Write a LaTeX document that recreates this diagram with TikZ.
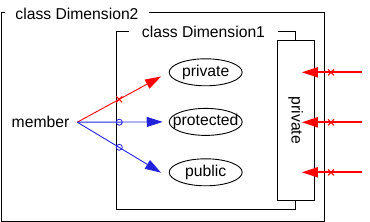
\documentclass[tikz,border=0pt]{standalone}
\usepackage{fontspec}
\setmainfont{Liberation Sans}
\usetikzlibrary{arrows.meta, shapes.geometric, shapes.misc}
\definecolor{accred}{RGB}{255, 0, 0}
\definecolor{accblue}{RGB}{35, 35, 220}

\begin{document}
\begin{tikzpicture}[x=1pt, y=-1pt,
    every node/.style={font=\fontsize{15.7}{18}\selectfont},
    frame/.style={draw, line width=1pt},
    title/.style={fill=white, inner ysep=1pt},
    spec/.style={ellipse, draw, line width=0.9pt, minimum width=73pt, minimum height=27pt, inner xsep=-8.5pt, inner ysep=-3pt},
    wall/.style={rectangle, draw, fill=white, line width=1pt, rotate=-90, minimum width=160pt, minimum height=37pt},
    acc/.style={-{Triangle[length=16pt, width=10pt]}, line width=0.9pt},
    deny/.style={cross out, draw=accred, line width=1pt, minimum size=5pt, inner sep=0pt},
    pass/.style={circle, draw=accblue, line width=0.8pt, minimum size=6pt, inner sep=0pt}
]
    \useasboundingbox (0,0) rectangle (370,222);

    % the two class frames
    \draw[frame] (1,13) rectangle (324,221.5);
    \node[title, inner xsep=10.5pt] (outer) at (77,13.4) {class Dimension2};
    \draw[frame] (116.7,31.7) rectangle (295.3,209.3);
    \node[title, inner xsep=12.5pt] (inner) at (203.5,31.4) {class Dimension1};
    \node[wall] (wall) at (295.8,120.3) {private};

    \node (member) at (40.5,121.7) {member};
    \coordinate (fan) at (77.3,122.2);

    \node[spec] (priv) at (205.7,72.3)  {private};
    \node[spec] (prot) at (205.7,121.9) {protected};
    \node[spec] (pub)  at (205.7,172.3) {public};

    \draw[acc, accred, shorten >=8.7pt] (fan) -- (priv.west);
    \draw[acc, accblue, shorten >=6pt] (fan) -- (prot.west);
    \draw[acc, accblue, shorten >=9pt] (fan) -- ([yshift=-5pt]pub.west);
    \node[deny] (cut)   at (119.3,99.4)  {};
    \node[pass] (pass1) at (119.3,122.2) {};
    \node[pass] (pass2) at (119.3,147.3) {};

    % access from outside
    \foreach \y [count=\i] in {72.3, 122.3, 172.3} {
        \coordinate (ext\i) at (362,\y);
        \draw[acc, accred, line width=2pt, shorten >=-13pt] (ext\i) -- (wall.north |- ext\i);
        \node[deny] (stop\i) at (331,\y) {};
    }
\end{tikzpicture}
\end{document}
